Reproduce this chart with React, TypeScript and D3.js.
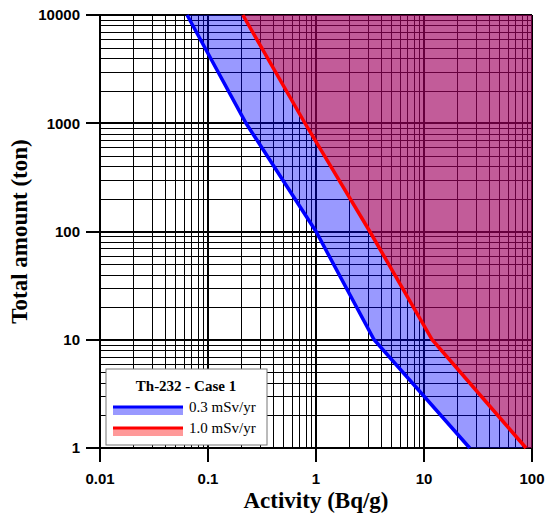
import React, { useEffect, useRef } from "react";
import * as d3 from "d3";

// activity (Bq/g) vs total amount (ton), limits for Th-232 case 1
const blueActivity = [0.064, 0.225, 1.0, 3.45, 26.5];
const blueAmount = [10000, 1000, 100, 10, 1];
const redActivity = [0.21, 0.79, 3.15, 11.9, 88];
const redAmount = [10000, 1000, 100, 10, 1];
const xTicks = [0.01, 0.1, 1, 10, 100];
const yTicks = [1, 10, 100, 1000, 10000];
const legendLabels = ["0.3 mSv/yr", "1.0 mSv/yr"];
const legendColors = ["#0000ff", "#ff0000"];

const App = () => {
  const svgRef = useRef<SVGSVGElement>(null);

  useEffect(() => {
    const width = 545;
    const height = 518;
    const margin = { top: 15, right: 13, bottom: 70, left: 100 };

    d3.select(svgRef.current).selectAll("*").remove();

    const svg = d3
      .select(svgRef.current)
      .attr("width", width)
      .attr("height", height);

    const x = d3
      .scaleLog()
      .domain([0.01, 100])
      .range([margin.left, width - margin.right]);
    const y = d3
      .scaleLog()
      .domain([1, 10000])
      .range([height - margin.bottom, margin.top]);

    const x0 = x.range()[0];
    const x1 = x.range()[1];
    const y0 = y.range()[0];
    const y1 = y.range()[1];

    // minor grid lines
    const minorX: number[] = [];
    for (let d = 0.01; d < 100; d *= 10)
      for (let k = 2; k < 10; k++) minorX.push(d * k);
    const minorY: number[] = [];
    for (let d = 1; d < 10000; d *= 10)
      for (let k = 2; k < 10; k++) minorY.push(d * k);

    const grid = svg.append("g").attr("shape-rendering", "crispEdges");
    grid
      .selectAll("line.mx")
      .data(minorX)
      .join("line")
      .attr("x1", (d) => Math.round(x(d)) + 0.5)
      .attr("x2", (d) => Math.round(x(d)) + 0.5)
      .attr("y1", y1)
      .attr("y2", y0)
      .attr("stroke", "#000")
      .attr("stroke-width", 1);
    grid
      .selectAll("line.my")
      .data(minorY)
      .join("line")
      .attr("y1", (d) => Math.round(y(d)) + 0.5)
      .attr("y2", (d) => Math.round(y(d)) + 0.5)
      .attr("x1", x0)
      .attr("x2", x1)
      .attr("stroke", "#000")
      .attr("stroke-width", 1);
    grid
      .selectAll("line.Mx")
      .data(xTicks)
      .join("line")
      .attr("x1", (d) => Math.round(x(d)))
      .attr("x2", (d) => Math.round(x(d)))
      .attr("y1", y1)
      .attr("y2", y0 + 14)
      .attr("stroke", "#000")
      .attr("stroke-width", 2);
    grid
      .selectAll("line.My")
      .data(yTicks)
      .join("line")
      .attr("y1", (d) => Math.round(y(d)))
      .attr("y2", (d) => Math.round(y(d)))
      .attr("x1", x0 - 14)
      .attr("x2", x1)
      .attr("stroke", "#000")
      .attr("stroke-width", 2);

    // shaded regions right of each curve
    const area = (xs: number[], ys: number[]) => {
      const pts: [number, number][] = xs.map((v, i) => [x(v), y(ys[i])]);
      pts.push([x1, y(ys[ys.length - 1])]);
      pts.push([x1, y(ys[0])]);
      return "M" + pts.map((p) => p.join(",")).join("L") + "Z";
    };
    svg
      .append("path")
      .attr("d", area(blueActivity, blueAmount))
      .attr("fill", "#0000ff")
      .attr("fill-opacity", 0.4);
    svg
      .append("path")
      .attr("d", area(redActivity, redAmount))
      .attr("fill", "#ff0000")
      .attr("fill-opacity", 0.4);

    const drawLine = (xs: number[], ys: number[], color: string) => {
      svg
        .append("path")
        .attr(
          "d",
          d3
            .line<number>()
            .x((d) => x(d))
            .y((_, i) => y(ys[i]))(xs)
        )
        .attr("fill", "none")
        .attr("stroke", color)
        .attr("stroke-width", 3.5);
    };
    drawLine(blueActivity, blueAmount, "#0000ff");
    drawLine(redActivity, redAmount, "#ff0000");

    // tick labels
    svg
      .append("g")
      .selectAll("text")
      .data(xTicks)
      .join("text")
      .attr("x", (d) => x(d))
      .attr("y", y0 + 36)
      .attr("text-anchor", "middle")
      .attr("font-family", "Liberation Sans, Arial, sans-serif")
      .attr("font-weight", "bold")
      .attr("font-size", 15)
      .text((d) => String(d));
    svg
      .append("g")
      .selectAll("text")
      .data(yTicks)
      .join("text")
      .attr("x", x0 - 20)
      .attr("y", (d) => y(d))
      .attr("dy", "0.36em")
      .attr("text-anchor", "end")
      .attr("font-family", "Liberation Sans, Arial, sans-serif")
      .attr("font-weight", "bold")
      .attr("font-size", 15)
      .text((d) => String(d));

    // axis titles
    svg
      .append("text")
      .attr("x", (x0 + x1) / 2)
      .attr("y", 508)
      .attr("text-anchor", "middle")
      .attr("font-family", "Liberation Serif, Times New Roman, serif")
      .attr("font-weight", "bold")
      .attr("font-size", 23)
      .text("Activity (Bq/g)");
    svg
      .append("text")
      .attr("transform", `translate(27,${(y0 + y1) / 2}) rotate(-90)`)
      .attr("text-anchor", "middle")
      .attr("font-family", "Liberation Serif, Times New Roman, serif")
      .attr("font-weight", "bold")
      .attr("font-size", 23)
      .text("Total amount (ton)");

    // legend
    const lg = svg.append("g").attr("transform", "translate(106,369)");
    lg.append("rect")
      .attr("width", 161)
      .attr("height", 76)
      .attr("fill", "#fff")
      .attr("stroke", "#777")
      .attr("stroke-width", 1);
    lg.append("text")
      .attr("x", 80)
      .attr("y", 22)
      .attr("text-anchor", "middle")
      .attr("font-family", "Liberation Serif, Times New Roman, serif")
      .attr("font-weight", "bold")
      .attr("font-size", 15)
      .text("Th-232 - Case 1");
    legendLabels.forEach((label, i) => {
      const yy = 38 + i * 21;
      lg.append("rect")
        .attr("x", 7)
        .attr("y", yy)
        .attr("width", 70)
        .attr("height", 8)
        .attr("fill", legendColors[i])
        .attr("fill-opacity", 0.4);
      lg.append("line")
        .attr("x1", 7)
        .attr("x2", 77)
        .attr("y1", yy)
        .attr("y2", yy)
        .attr("stroke", legendColors[i])
        .attr("stroke-width", 3);
      lg.append("text")
        .attr("x", 83)
        .attr("y", yy + 5)
        .attr("font-family", "Liberation Serif, Times New Roman, serif")
        .attr("font-size", 15)
        .text(label);
    });
  }, []);

  return (
    <svg
      ref={svgRef}
      style={{ position: "absolute", left: 0, top: 0, display: "block" }}
    ></svg>
  );
};

export default App;
